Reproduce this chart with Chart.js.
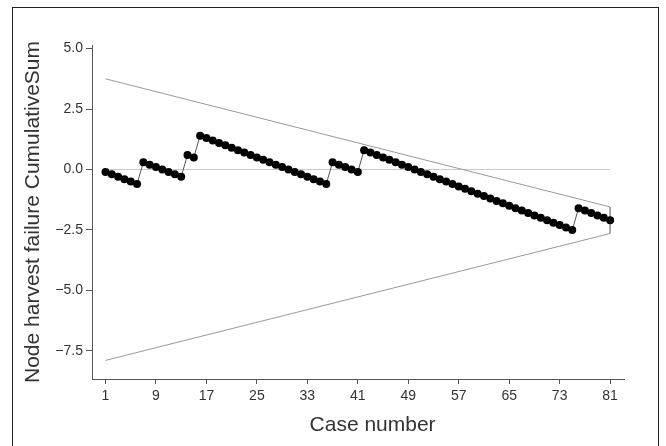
<!DOCTYPE html>
<html lang="en">
<head>
    <meta charset="UTF-8">
    <title>Node harvest failure CUSUM</title>
    <script src="https://cdn.jsdelivr.net/npm/chart.js"></script>
    <style>
        html, body { margin: 0; padding: 0; background: #fff; overflow: hidden; }
        #wrap { position: relative; width: 666px; height: 446px; }
        #frame {
            position: absolute; left: 12px; top: 7px; width: 645px; height: 460px;
            border: 1px solid #222; pointer-events: none;
        }
    </style>
</head>
<body>
    <div id="wrap">
        <canvas id="cusumChart" width="666" height="446"></canvas>
        <div id="frame"></div>
    </div>

    <script>
        // cumulative sum per case (case 1..81)
        const cusum = [
            -0.1, -0.2, -0.3, -0.4, -0.5, -0.6, 0.3, 0.2, 0.1, 0.0,
            -0.1, -0.2, -0.3, 0.6, 0.5, 1.4, 1.3, 1.2, 1.1, 1.0,
            0.9, 0.8, 0.7, 0.6, 0.5, 0.4, 0.3, 0.2, 0.1, 0.0,
            -0.1, -0.2, -0.3, -0.4, -0.5, -0.6, 0.3, 0.2, 0.1, 0.0,
            -0.1, 0.8, 0.7, 0.6, 0.5, 0.4, 0.3, 0.2, 0.1, 0.0,
            -0.1, -0.2, -0.3, -0.4, -0.5, -0.6, -0.7, -0.8, -0.9, -1.0,
            -1.1, -1.2, -1.3, -1.4, -1.5, -1.6, -1.7, -1.8, -1.9, -2.0,
            -2.1, -2.2, -2.3, -2.4, -2.5, -1.6, -1.7, -1.8, -1.9, -2.0,
            -2.1
        ];

        // V-shaped limit outline: upper edge, closing side at case 81, lower edge
        const limitX = [1, 81, 81, 1];
        const limitY = [3.75, -1.55, -2.65, -7.9];

        // reference line at zero
        const zeroX = [1, 81];
        const zeroY = [0, 0];

        const xTicks = [1, 9, 17, 25, 33, 41, 49, 57, 65, 73, 81];
        const yTicks = [5.0, 2.5, 0.0, -2.5, -5.0, -7.5];

        const toPoints = (xs, ys) => xs.map((x, i) => ({ x: x, y: ys[i] }));

        const textColor = '#333';
        const axisColor = '#555';
        const fontFamily = '"Liberation Sans", Arial, sans-serif';

        new Chart(document.getElementById('cusumChart'), {
            type: 'line',
            data: {
                datasets: [
                    {
                        label: 'CUSUM',
                        data: cusum.map((v, i) => ({ x: i + 1, y: v })),
                        borderColor: '#555',
                        borderWidth: 1,
                        pointRadius: 4,
                        pointBackgroundColor: '#000',
                        pointBorderColor: '#000',
                        pointBorderWidth: 0,
                        tension: 0,
                        order: 0
                    },
                    {
                        label: 'Limits',
                        data: toPoints(limitX, limitY),
                        borderColor: '#999',
                        borderWidth: 1,
                        pointRadius: 0,
                        tension: 0,
                        order: 1
                    },
                    {
                        label: 'Zero',
                        data: toPoints(zeroX, zeroY),
                        borderColor: '#c8c8c8',
                        borderWidth: 1,
                        pointRadius: 0,
                        tension: 0,
                        order: 2
                    }
                ]
            },
            options: {
                responsive: false,
                animation: false,
                devicePixelRatio: 1,
                layout: { padding: { left: 0, right: 42, top: 45, bottom: 0 } },
                plugins: {
                    legend: { display: false },
                    tooltip: { enabled: false }
                },
                scales: {
                    x: {
                        type: 'linear',
                        min: -1.14,
                        max: 83.2,
                        afterBuildTicks: scale => {
                            scale.ticks = xTicks.map(v => ({ value: v }));
                        },
                        afterFit: scale => { scale.height = 67; },
                        grid: {
                            display: true,
                            drawOnChartArea: false,
                            drawTicks: true,
                            tickLength: 5,
                            color: axisColor
                        },
                        border: { display: true, color: axisColor, width: 1 },
                        ticks: {
                            color: textColor,
                            font: { family: fontFamily, size: 14 },
                            padding: 4,
                            maxRotation: 0,
                            autoSkip: false,
                            callback: v => String(v)
                        },
                        title: {
                            display: true,
                            // leading spaces nudge the centred label right, as in the figure
                            text: '     Case number',
                            color: textColor,
                            font: { family: fontFamily, size: 21 },
                            padding: { top: 0, bottom: 8 }
                        }
                    },
                    y: {
                        type: 'linear',
                        min: -8.67,
                        max: 5.15,
                        afterBuildTicks: scale => {
                            scale.ticks = yTicks.map(v => ({ value: v }));
                        },
                        afterFit: scale => { scale.width = 92; },
                        grid: {
                            display: true,
                            drawOnChartArea: false,
                            drawTicks: true,
                            tickLength: 6,
                            color: axisColor
                        },
                        border: { display: true, color: axisColor, width: 1 },
                        ticks: {
                            color: textColor,
                            font: { family: fontFamily, size: 14 },
                            padding: 3,
                            autoSkip: false,
                            callback: v => (v < 0 ? '\u2212' : '') + Math.abs(v).toFixed(1)
                        },
                        title: {
                            display: true,
                            text: 'Node harvest failure CumulativeSum',
                            color: textColor,
                            font: { family: fontFamily, size: 21 },
                            padding: { top: 21, bottom: 0 }
                        }
                    }
                }
            }
        });
    </script>
</body>
</html>
